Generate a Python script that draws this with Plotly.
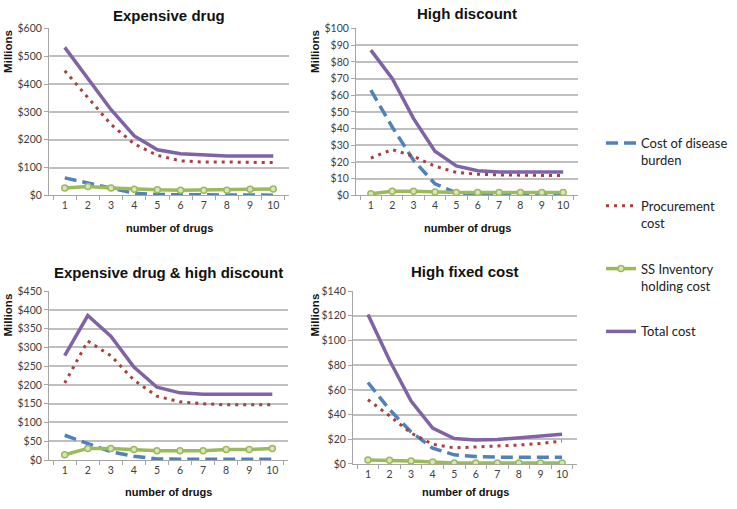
import plotly.graph_objects as go

W, H = 737, 509

drugs = ["1", "2", "3", "4", "5", "6", "7", "8", "9", "10"]
series_names = ["Cost of disease burden", "Procurement cost", "SS Inventory holding cost", "Total cost"]
legend_labels = ["Cost of disease<br>burden", "Procurement<br>cost", "SS Inventory<br>holding cost", "Total cost"]

panel_titles = ["Expensive drug", "High discount", "Expensive drug & high discount", "High fixed cost"]

# Expensive drug
exp_disease = [63, 44, 24, 8, 3, 2, 1, 1, 1, 1]
exp_procure = [448, 352, 255, 185, 144, 124, 120, 120, 118, 118]
exp_ss = [27, 32, 27, 22, 20, 19, 19, 19, 22, 23]
exp_total = [532, 420, 308, 214, 164, 150, 145, 142, 142, 142]

# High discount
hd_disease = [63, 41, 21, 7, 1.5, 0.5, 0.5, 0.5, 0.5, 0.5]
hd_procure = [22.4, 27.5, 23.4, 17.5, 13.8, 12.7, 12.3, 12, 12, 12]
hd_ss = [1, 2.5, 2.5, 2, 1.8, 1.8, 1.8, 1.8, 1.8, 1.8]
hd_total = [87, 70, 46, 26.5, 17.7, 14.8, 14, 14, 14, 14]

# Expensive drug & high discount
edhd_disease = [66, 44, 22, 10, 3, 2, 2, 2, 2, 2]
edhd_procure = [205, 317, 278, 213, 170, 155, 150, 147, 147, 147]
edhd_ss = [14, 31, 31, 28, 25, 25, 25, 28, 28, 31]
edhd_total = [278, 385, 330, 248, 194, 179, 175, 175, 175, 175]

# High fixed cost
hf_disease = [66, 44, 26, 12.7, 7.4, 6, 5.5, 5.5, 5.5, 5.5]
hf_procure = [52, 39, 25, 16, 13, 13.7, 14.5, 15.3, 16.6, 18.5]
hf_ss = [3.2, 3, 2.4, 1.6, 0.8, 0.8, 0.8, 0.8, 0.8, 0.8]
hf_total = [121, 84, 51, 29, 20.6, 19.3, 19.8, 21, 22.7, 24]

panels = [
    (exp_disease, exp_procure, exp_ss, exp_total),
    (hd_disease, hd_procure, hd_ss, hd_total),
    (edhd_disease, edhd_procure, edhd_ss, edhd_total),
    (hf_disease, hf_procure, hf_ss, hf_total),
]
y_max = [600, 100, 450, 140]
y_dtick = [100, 10, 50, 20]

# pixel boxes: left, right, top, bottom
boxes = [(49, 289, 23, 194), (356, 578, 23, 194), (49, 288, 292, 465), (353, 577, 292, 469)]
title_y = [10, 8, 273, 272]
xtitle_y = [227, 227, 498, 498]

def px(x):
    return x / W

def py(y):
    return 1 - y / H

styles = [
    dict(line=dict(color="#4F81BD", width=3.5, dash="12px,6px"), mode="lines"),
    dict(line=dict(color="#A8403C", width=3, dash="3px,5px"), mode="lines"),
    dict(line=dict(color="#9BBB59", width=3.5), mode="lines+markers",
         marker=dict(symbol="circle", size=6, color="#D7E4BD", line=dict(color="#9BBB59", width=1.5))),
    dict(line=dict(color="#7F63A6", width=3.5), mode="lines"),
]

fig = go.Figure()
for i, data in enumerate(panels):
    ax = "" if i == 0 else str(i + 1)
    for j, vals in enumerate(data):
        fig.add_trace(go.Scatter(
            x=drugs, y=vals, name=legend_labels[j], legendgroup=series_names[j],
            showlegend=(i == 0), xaxis="x" + ax, yaxis="y" + ax,
            hoverinfo="skip", **styles[j]))

tickfont = dict(family="Lato, Liberation Sans, sans-serif", size=10.5, color="#404040")
layout = dict(
    width=W, height=H, margin=dict(l=0, r=0, t=0, b=0),
    paper_bgcolor="white", plot_bgcolor="white", showlegend=True,
    legend=dict(x=px(601), y=py(125), xanchor="left", yanchor="top",
                font=dict(family="Lato, Liberation Sans, sans-serif", size=13, color="#222222"),
                tracegroupgap=26, valign="top", itemwidth=30, bgcolor="rgba(0,0,0,0)"),
)
annotations = []
for i in range(4):
    l, r, t, b = boxes[i]
    ax = "" if i == 0 else str(i + 1)
    layout["xaxis" + ax] = dict(
        domain=[px(l), px(r)], anchor="y" + ax, type="category",
        showgrid=False, showline=True, linecolor="#A6A6A6", linewidth=1,
        ticks="outside", ticklen=4, tickcolor="#A6A6A6", tickson="boundaries",
        tickfont=tickfont, fixedrange=True, zeroline=False)
    layout["yaxis" + ax] = dict(
        domain=[py(b), py(t)], anchor="x" + ax, range=[0, y_max[i]], dtick=y_dtick[i],
        tickprefix="$", showgrid=True, gridcolor="#BFBFBF", gridwidth=1.5,
        showline=True, linecolor="#A6A6A6", linewidth=1, ticks="outside", ticklen=4,
        tickcolor="#A6A6A6", tickfont=tickfont, zeroline=False, fixedrange=True)
    cx = (l + r) / 2
    annotations.append(dict(text="<b>" + panel_titles[i] + "</b>", x=px(cx), y=py(title_y[i]),
                            xref="paper", yref="paper", showarrow=False, xanchor="center", yanchor="middle",
                            font=dict(family="Liberation Sans, Arial, sans-serif", size=15, color="#111111")))
    annotations.append(dict(text="<b>number of drugs</b>", x=px(cx), y=py(xtitle_y[i]),
                            xref="paper", yref="paper", showarrow=False, xanchor="center", yanchor="middle",
                            font=dict(family="Liberation Sans, Arial, sans-serif", size=11, color="#111111")))
    mx = 8 if i % 2 == 0 else 315
    my = 47 if i < 2 else 317
    annotations.append(dict(text="<b>Millions</b>", x=px(mx), y=py(my), textangle=-90,
                            xref="paper", yref="paper", showarrow=False, xanchor="center", yanchor="middle",
                            font=dict(family="Liberation Sans, Arial, sans-serif", size=11.5, color="#111111")))
layout["annotations"] = annotations
fig.update_layout(**layout)
fig.write_html("out.html", config={"displayModeBar": False},
               post_script="document.body.style.margin='0';document.body.style.overflow='hidden';")
